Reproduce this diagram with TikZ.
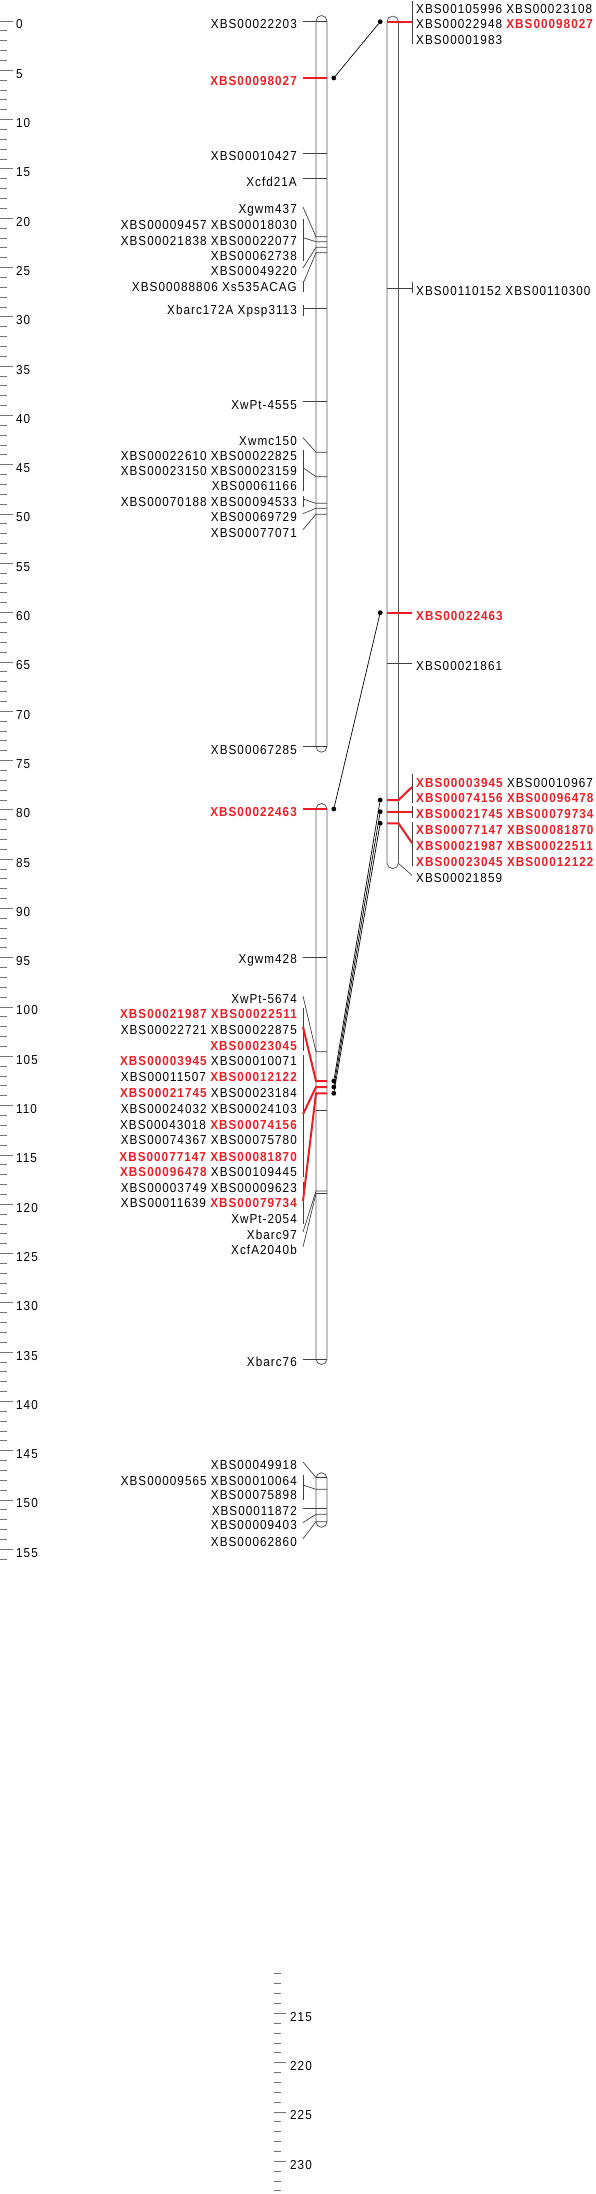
\documentclass[tikz,border=0pt]{standalone}
\usepackage{fontspec}
\setmainfont{Liberation Sans}[LetterSpace=8,FakeStretch=0.9]
\definecolor{mred}{RGB}{235,30,36}
\newcommand\R[1]{{\color{mred}\bfseries #1}}
\begin{document}
\begin{tikzpicture}[x=1pt,y=-1pt,
  chr/.style={draw=black!65,line width=0.8pt,fill=white,rounded corners=5.5pt},
  mk/.style={draw=black!75,line width=0.7pt},
  rmk/.style={draw=mred,line width=2pt},
  grp/.style={draw=black!75,line width=0.7pt},
  lab/.style={anchor=east,inner sep=0pt,font=\fontsize{13}{15}\selectfont},
  rlab/.style={anchor=west,inner sep=0pt,font=\fontsize{13}{15}\selectfont},
  rul/.style={anchor=west,inner sep=0pt,font=\fontsize{13}{15}\selectfont},
  link/.style={draw=black,line width=0.7pt},
  dot/.style={circle,fill=black,inner sep=0pt,minimum size=4.8pt},
  tck/.style={draw=black!55,line width=0.8pt}]
\useasboundingbox (0,0) rectangle (595,2194);

% ---------- rulers ----------
\foreach \v in {0,...,156}{
  \pgfmathsetmacro\yy{21+9.86*\v}
  \pgfmathtruncatemacro\md{mod(\v,5)}
  \ifnum\md=0
    \draw[tck] (0,\yy) -- (12.5,\yy);
    \node[rul] (r\v) at (16,\yy+3.5) {\v};
  \else
    \draw[tck] (0,\yy) -- (6.5,\yy);
  \fi
}
\foreach \v in {211,...,233}{
  \pgfmathsetmacro\yy{2013.3+9.86*(\v-215)}
  \pgfmathtruncatemacro\md{mod(\v,5)}
  \ifnum\md=0
    \draw[tck] (274,\yy) -- (286,\yy);
    \node[rul] (s\v) at (290,\yy+3.5) {\v};
  \else
    \draw[tck] (274,\yy) -- (280.5,\yy);
  \fi
}

% ---------- chromosomes ----------
\draw[chr] (316,15.5) rectangle (327,752.2);
\draw[chr] (316,803.5) rectangle (327,1364.5);
\draw[chr] (316,1472.7) rectangle (327,1527.3);
\draw[chr] (387,16.2) rectangle (398.5,868.5);

% ---------- left chromosome, segment 1 ----------
\node[lab] (a1) at (297,24) {XBS00022203};
\draw[mk] (303,21) -- (327,21);
\node[lab] (a2) at (297,81) {\R{XBS00098027}};
\draw[rmk] (303,78) -- (327,78);
\node[lab] (a3) at (297,156.3) {XBS00010427};
\draw[mk] (303,153.3) -- (327,153.3);
\node[lab] (a4) at (297,181.7) {Xcfd21A};
\draw[mk] (303,178.7) -- (327,178.7);
\node[lab] (a5) at (297,210) {Xgwm437};
\draw[mk] (303,207) -- (316,236.7) -- (327,236.7);
\node[lab] (a6) at (297,225) {XBS00009457 XBS00018030};
\node[lab] (a7) at (297,240.7) {XBS00021838 XBS00022077};
\node[lab] (a8) at (297,256) {XBS00062738};
\draw[grp] (303,219) -- (303,261);
\draw[mk] (303,237.7) -- (316,241.7) -- (327,241.7);
\node[lab] (a9) at (297,271) {XBS00049220};
\draw[mk] (303,268) -- (316,247.3) -- (327,247.3);
\node[lab] (a10) at (297,286.7) {XBS00088806 Xs535ACAG};
\draw[grp] (303,280.7) -- (303,291.7);
\draw[mk] (303,283.7) -- (316,252.7) -- (327,252.7);
\node[lab] (a11) at (297,311.3) {Xbarc172A Xpsp3113};
\draw[grp] (303,305.3) -- (303,316.3);
\draw[mk] (303,308.3) -- (327,308.3);
\node[lab] (a12) at (297,404.7) {XwPt-4555};
\draw[mk] (303,401.7) -- (327,401.7);
\node[lab] (a13) at (297,440.7) {Xwmc150};
\draw[mk] (303,437.7) -- (316,452.3) -- (327,452.3);
\node[lab] (a14) at (297,456) {XBS00022610 XBS00022825};
\node[lab] (a15) at (297,470.7) {XBS00023150 XBS00023159};
\node[lab] (a16) at (297,486) {XBS00061166};
\draw[grp] (303,450) -- (303,491);
\draw[mk] (303,467.7) -- (316,476.7) -- (327,476.7);
\node[lab] (a17) at (297,502) {XBS00070188 XBS00094533};
\draw[grp] (303,496) -- (303,507);
\draw[mk] (303,499) -- (316,503.3) -- (327,503.3);
\node[lab] (a18) at (297,516.7) {XBS00069729};
\draw[mk] (303,513.7) -- (316,508.3) -- (327,508.3);
\node[lab] (a19) at (297,532.7) {XBS00077071};
\draw[mk] (303,529.7) -- (316,514.3) -- (327,514.3);
\node[lab] (a20) at (297,749.7) {XBS00067285};
\draw[mk] (303,746.7) -- (327,746.7);

% ---------- left chromosome, segment 2 ----------
\node[lab] (b1) at (297,812) {\R{XBS00022463}};
\draw[rmk] (303,809) -- (327,809);
\node[lab] (b2) at (297,960) {Xgwm428};
\draw[mk] (303,957) -- (327,957);
\node[lab] (b3) at (297,999) {XwPt-5674};
\draw[mk] (303,996) -- (316,1051.7) -- (327,1051.7);
\node[lab] (b4) at (297,1014) {\R{XBS00021987} \R{XBS00022511}};
\node[lab] (b5) at (297,1030) {XBS00022721 XBS00022875};
\node[lab] (b6) at (297,1046) {\R{XBS00023045}};
\draw[grp] (303,1008) -- (303,1051);
\node[lab] (b7) at (297,1061) {\R{XBS00003945} XBS00010071};
\node[lab] (b8) at (297,1077.3) {XBS00011507 \R{XBS00012122}};
\node[lab] (b9) at (297,1093.3) {\R{XBS00021745} XBS00023184};
\node[lab] (b10) at (297,1109) {XBS00024032 XBS00024103};
\node[lab] (b11) at (297,1124.7) {XBS00043018 \R{XBS00074156}};
\node[lab] (b12) at (297,1140.3) {XBS00074367 XBS00075780};
\node[lab] (b13) at (297,1156.7) {\R{XBS00077147} \R{XBS00081870}};
\node[lab] (b14) at (297,1172.3) {\R{XBS00096478} XBS00109445};
\draw[grp] (303,1055) -- (303,1177);
\node[lab] (b15) at (297,1188.3) {XBS00003749 XBS00009623};
\node[lab] (b16) at (297,1203.3) {XBS00011639 \R{XBS00079734}};
\node[lab] (b17) at (297,1219.3) {XwPt-2054};
\draw[grp] (303,1182) -- (303,1224);
\node[lab] (b18) at (297,1235) {Xbarc97};
\draw[mk] (303,1232) -- (316,1191) -- (327,1191);
\node[lab] (b19) at (297,1250) {XcfA2040b};
\draw[mk] (303,1247) -- (316,1193.5) -- (327,1193.5);
\draw[mk] (316,1110.7) -- (327,1110.7);
\draw[rmk] (303,1027) -- (316,1081) -- (327,1081);
\draw[rmk] (303,1114.3) -- (316,1087) -- (327,1087);
\draw[rmk] (303,1201) -- (316,1093.3) -- (327,1093.3);
\node[lab] (b20) at (297,1362) {Xbarc76};
\draw[mk] (303,1359) -- (327,1359);

% ---------- left chromosome, segment 3 ----------
\node[lab] (c1) at (297,1465) {XBS00049918};
\draw[mk] (303,1462) -- (316,1477.5) -- (327,1477.5);
\node[lab] (c2) at (297,1480.7) {XBS00009565 XBS00010064};
\node[lab] (c3) at (297,1495) {XBS00075898};
\draw[grp] (303,1474.7) -- (303,1500);
\draw[mk] (303,1485) -- (316,1489.3) -- (327,1489.3);
\node[lab] (c4) at (297,1511) {XBS00011872};
\draw[mk] (303,1508.3) -- (327,1508.3);
\node[lab] (c5) at (297,1525.5) {XBS00009403};
\draw[mk] (303,1522.5) -- (316,1514.3) -- (327,1514.3);
\node[lab] (c6) at (297,1541.7) {XBS00062860};
\draw[mk] (303,1538.7) -- (316,1521.7) -- (327,1521.7);

% ---------- right chromosome ----------
\node[rlab] (d1) at (416,9) {XBS00105996 XBS00023108};
\node[rlab] (d2) at (416,24) {XBS00022948 \R{XBS00098027}};
\node[rlab] (d3) at (416,40) {XBS00001983};
\draw[grp] (412,1) -- (412,44);
\draw[rmk] (387,21.7) -- (412,21.7);
\node[rlab] (d4) at (416,291) {XBS00110152 XBS00110300};
\draw[grp] (412,282) -- (412,293);
\draw[mk] (387,288.3) -- (412,288.3);
\node[rlab] (d5) at (416,616) {\R{XBS00022463}};
\draw[rmk] (387,612.7) -- (412,612.7);
\node[rlab] (d6) at (416,666.3) {XBS00021861};
\draw[mk] (387,663.3) -- (412,663.3);
\node[rlab] (d7) at (416,782.7) {\R{XBS00003945} XBS00010967};
\node[rlab] (d8) at (416,798.3) {\R{XBS00074156} \R{XBS00096478}};
\draw[grp] (412,774) -- (412,803);
\node[rlab] (d9) at (416,814) {\R{XBS00021745} \R{XBS00079734}};
\draw[grp] (412,806) -- (412,818);
\node[rlab] (d10) at (416,830) {\R{XBS00077147} \R{XBS00081870}};
\node[rlab] (d11) at (416,846) {\R{XBS00021987} \R{XBS00022511}};
\node[rlab] (d12) at (416,861.7) {\R{XBS00023045} \R{XBS00012122}};
\draw[grp] (412,822) -- (412,866);
\draw[rmk] (387,800) -- (398.5,800) -- (412,787);
\draw[rmk] (387,811.7) -- (412,811.7);
\draw[rmk] (387,823.3) -- (398.5,823.3) -- (412,843);
\node[rlab] (d13) at (416,878.3) {XBS00021859};
\draw[mk] (398.5,863.5) -- (412,875.3);

% ---------- links ----------
\node[dot] (p1) at (380.2,21.7) {};
\node[dot] (q1) at (333.8,78) {};
\node[dot] (p2) at (380.2,612.7) {};
\node[dot] (q2) at (333.8,809) {};
\node[dot] (p3) at (380.2,800) {};
\node[dot] (q3) at (333.8,1081) {};
\node[dot] (p4) at (380.2,811.7) {};
\node[dot] (q4) at (333.8,1087) {};
\node[dot] (p5) at (380.2,823.3) {};
\node[dot] (q5) at (333.8,1093.3) {};
\draw[link] (p1) -- (q1);
\draw[link] (p2) -- (q2);
\draw[link] (p3) -- (q3);
\draw[link] (p4) -- (q4);
\draw[link] (p5) -- (q5);
\end{tikzpicture}
\end{document}
